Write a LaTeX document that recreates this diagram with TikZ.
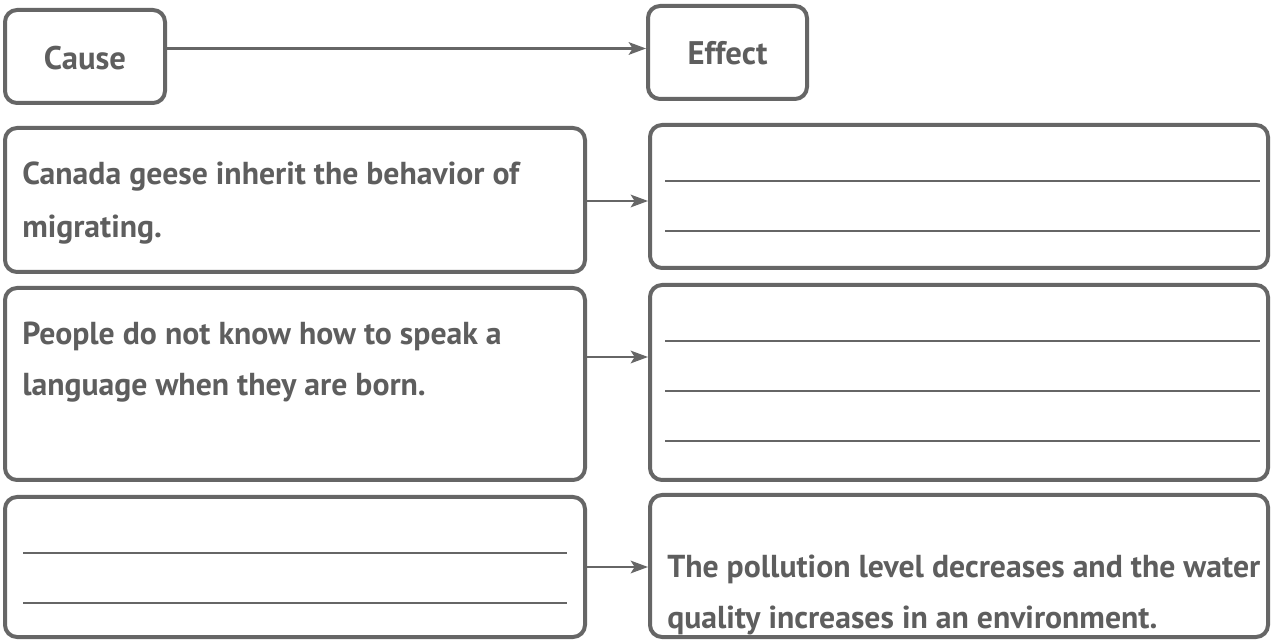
\documentclass[tikz,border=0pt]{standalone}
\usepackage{fontspec}
\setmainfont{PT Sans}
\usetikzlibrary{arrows.meta,calc}
\definecolor{ink}{HTML}{666666}
\definecolor{txt}{HTML}{5E5E5E}
\begin{document}
\begin{tikzpicture}[x=0.75pt,y=-0.75pt,
  card/.style={draw=ink, line width=3pt, rounded corners=9pt, inner sep=0pt, fill=white},
  head/.style={text=txt, font=\bfseries\fontsize{24.5}{28}\selectfont},
  para/.style={text=txt, anchor=north west, inner sep=0pt, align=left,
               font=\bfseries\fontsize{23.8}{38}\selectfont},
  rule/.style={draw=ink, line width=1.4pt},
  link/.style={draw=ink, line width=1.6pt, -{Stealth[length=13pt,width=9.5pt,inset=3pt]}}]
\useasboundingbox (0,0) rectangle (1272,641);
\fill[white] (0,0) rectangle (1272,641);

% header boxes
\node[card, minimum width=120pt, minimum height=69.75pt] (cause) at (85,56.5) {};
\node[card, minimum width=119.25pt, minimum height=69.75pt] (effect) at (727.5,52.5) {};
\node[head] (causelbl) at (85,58) {Cause};
\node[head] (effectlbl) at (727.5,53) {Effect};
\draw[link] ($(cause.east)+(0,-8)$) -- ($(effect.west |- cause.east)+(0,-8)$);

% row 1
\node[card, minimum width=435pt, minimum height=108pt] (l1) at (295,200) {};
\node[card, minimum width=463.5pt, minimum height=107.25pt] (r1) at (959,196.5) {};
\node[para, font=\bfseries\fontsize{23.8}{39.5}\selectfont] (t1) at (22,162) {Canada geese inherit the behavior of\\migrating.};
\draw[rule] ($(r1.north west)+(17,58)$) -- ($(r1.north east)+(-10,58)$);
\draw[rule] ($(r1.north west)+(17,108)$) -- ($(r1.north east)+(-10,108)$);
\draw[link] ($(l1.east)+(0,1)$) -- ($(r1.west |- l1.east)+(0,1)$);

% row 2
\node[card, minimum width=435pt, minimum height=144pt] (l2) at (295,384) {};
\node[card, minimum width=463.5pt, minimum height=146.25pt] (r2) at (959,382.5) {};
\node[para] (t2) at (22,322) {People do not know how to speak a\\language when they are born.};
\draw[rule] ($(r2.north west)+(17,58)$) -- ($(r2.north east)+(-10,58)$);
\draw[rule] ($(r2.north west)+(17,108)$) -- ($(r2.north east)+(-10,108)$);
\draw[rule] ($(r2.north west)+(17,158)$) -- ($(r2.north east)+(-10,158)$);
\draw[link] ($(l2.east)+(0,-27)$) -- ($(r2.west |- l2.east)+(0,-27)$);

% row 3
\node[card, minimum width=435pt, minimum height=105pt] (l3) at (295,567) {};
\node[card, minimum width=463.5pt, minimum height=106.5pt] (r3) at (959,566) {};
\draw[rule] ($(l3.north west)+(20,58)$) -- ($(l3.north east)+(-20,58)$);
\draw[rule] ($(l3.north west)+(20,108)$) -- ($(l3.north east)+(-20,108)$);
\node[para] (t3) at (667,555) {The pollution level decreases and the water\\quality increases in an environment.};
\draw[link] (l3.east) -- (r3.west |- l3.east);
\end{tikzpicture}
\end{document}
